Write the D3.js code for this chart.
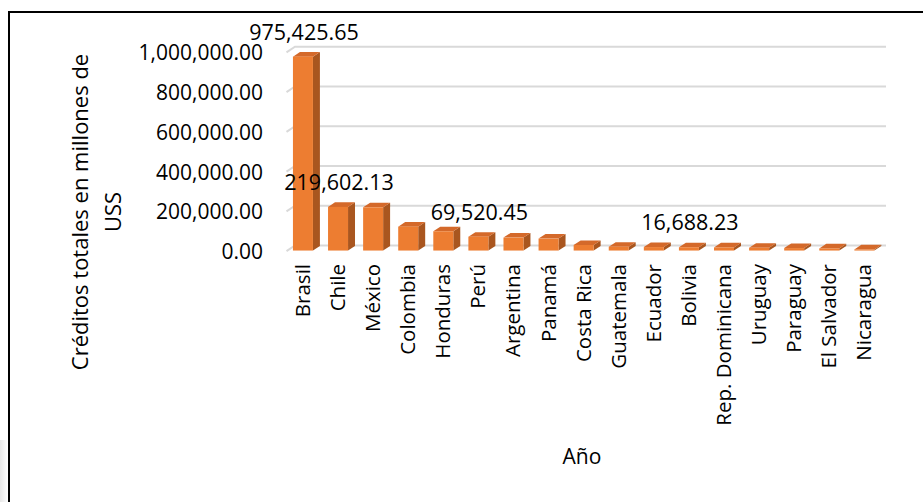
<!DOCTYPE html>
<html>
<head>
<meta charset="utf-8">
<script src="https://cdn.jsdelivr.net/npm/d3@7"></script>
<style>
  html, body { margin: 0; padding: 0; background: #fff; }
  svg { display: block; font-family: "Open Sans", "Noto Sans", sans-serif; }
</style>
</head>
<body>
<svg id="chart" width="923" height="502"></svg>
<script>
// Créditos totales por país (millones de USS)
const countries = ["Brasil", "Chile", "México", "Colombia", "Honduras", "Perú", "Argentina",
  "Panamá", "Costa Rica", "Guatemala", "Ecuador", "Bolivia", "Rep. Dominicana",
  "Uruguay", "Paraguay", "El Salvador", "Nicaragua"];
const credits = [975425.65, 219602.13, 217500, 120000, 97000, 69520.45, 65000,
  60000, 28000, 19000, 17500, 16688.23, 15500,
  14000, 12500, 10500, 5500];
// Bars that carry a value label
const labelled = ["Brasil", "Chile", "Perú", "Bolivia"];
const yTicks = [0, 200000, 400000, 600000, 800000, 1000000];
const yTitleLines = ["Créditos totales en millones de", "USS"];
const xTitle = "Año";

const data = countries.map((c, i) => ({ country: c, value: credits[i] }));

const svg = d3.select("#chart");

// faint shadow on the far left edge
const defs = svg.append("defs");
const g1 = defs.append("linearGradient").attr("id", "edgeShade")
  .attr("x1", 0).attr("x2", 1).attr("y1", 0).attr("y2", 0);
g1.append("stop").attr("offset", "0%").attr("stop-color", "#e6e6e6");
g1.append("stop").attr("offset", "100%").attr("stop-color", "#ffffff");
svg.append("rect").attr("x", 0).attr("y", 440).attr("width", 8).attr("height", 62)
  .attr("fill", "url(#edgeShade)");

// chart frame
svg.append("rect")
  .attr("x", 9).attr("y", 12).attr("width", 940).attr("height", 520)
  .attr("fill", "none").attr("stroke", "#000").attr("stroke-width", 2);

// Scales: band scale on the front plane, linear scale on the back wall
const x = d3.scaleBand().domain(countries).range([286.5, 883]);
const y = d3.scaleLinear().domain([0, 1000000]).range([245.5, 46.7]);
const depth = { dx: 8.5, dy: -5.6 };   // front plane -> back wall
const t0 = 0.1, t1 = 0.92;             // bar depth within the floor

const x0 = x.range()[0], x1 = x.range()[1];

// gridlines (side wall diagonal + back wall horizontal)
svg.append("g").selectAll("path").data(yTicks).join("path")
  .attr("d", t => `M${x0},${y(t) - depth.dy} L${x0 + depth.dx},${y(t)} L${x1 + 3},${y(t)}`)
  .attr("fill", "none").attr("stroke", "#d9d9d9").attr("stroke-width", 2);

// y tick labels
svg.append("g").selectAll("text").data(yTicks).join("text")
  .attr("x", 263)
  .attr("y", t => y(t) - depth.dy + 0.5)
  .attr("dy", "0.36em")
  .attr("text-anchor", "end")
  .attr("font-size", 21).attr("fill", "#000")
  .text(d3.format(",.2f"));

// 3D bars
const bw = x.bandwidth();
const faceW = bw * 0.57;
const gap = 5.6;
const sdx = depth.dx * (t1 - t0), sdy = depth.dy * (t1 - t0);

function geom(d) {
  const X0 = x(d.country) + gap + depth.dx * t0;
  const yT = y(d.value) - depth.dy * (1 - t0);
  const yB = y(0) - depth.dy * (1 - t0);
  return { X0, yT, yB };
}

const bars = svg.append("g").selectAll("g").data(data).join("g");
bars.append("path")   // side
  .attr("d", d => {
    const g = geom(d), r = g.X0 + faceW;
    return `M${r},${g.yT} L${r + sdx},${g.yT + sdy} L${r + sdx},${g.yB + sdy} L${r},${g.yB} Z`;
  })
  .attr("fill", "#a9561f");
bars.append("path")   // top
  .attr("d", d => {
    const g = geom(d);
    return `M${g.X0},${g.yT} L${g.X0 + faceW},${g.yT} L${g.X0 + faceW + sdx},${g.yT + sdy} L${g.X0 + sdx},${g.yT + sdy} Z`;
  })
  .attr("fill", "#d4692a");
bars.append("rect")   // front
  .attr("x", d => geom(d).X0)
  .attr("y", d => geom(d).yT)
  .attr("width", faceW)
  .attr("height", d => geom(d).yB - geom(d).yT)
  .attr("fill", "#ed7d31");

// value labels
svg.append("g").selectAll("text")
  .data(data.filter(d => labelled.includes(d.country))).join("text")
  .attr("x", d => geom(d).X0 + faceW / 2 + 1)
  .attr("y", d => geom(d).yT - 24.5)
  .attr("dy", "0.36em")
  .attr("text-anchor", "middle")
  .attr("font-size", 21.5).attr("fill", "#000")
  .text(d => d3.format(",.2f")(d.value));

// category labels (rotated)
svg.append("g").selectAll("text").data(countries).join("text")
  .attr("transform", c => `translate(${x(c) + gap + depth.dx * t0 + faceW / 2 + 7},264) rotate(-90)`)
  .attr("text-anchor", "end")
  .attr("font-size", 20.5).attr("fill", "#000")
  .text(c => c);

// axis titles
const yt = svg.append("text")
  .attr("transform", "translate(88,212) rotate(-90)")
  .attr("text-anchor", "middle")
  .attr("font-size", 22).attr("fill", "#000");
yt.selectAll("tspan").data(yTitleLines).join("tspan")
  .attr("x", 0).attr("dy", (d, i) => i === 0 ? 0 : 33)
  .text(d => d);

svg.append("text")
  .attr("x", 582).attr("y", 464)
  .attr("text-anchor", "middle")
  .attr("font-size", 21).attr("fill", "#000")
  .text(xTitle);
</script>
</body>
</html>
